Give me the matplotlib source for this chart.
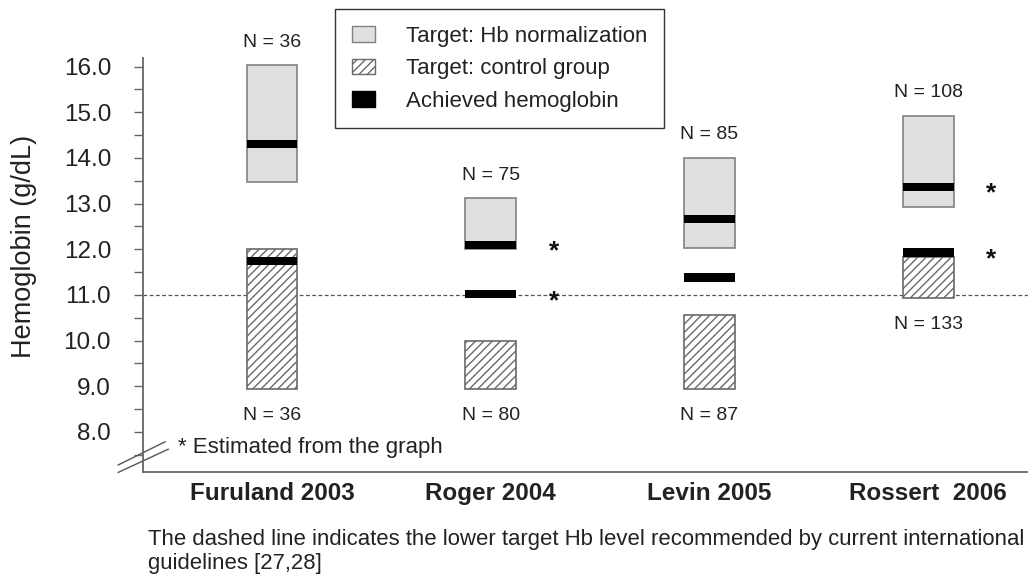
import numpy as np
import matplotlib.pyplot as plt
from matplotlib.patches import Patch
from matplotlib.lines import Line2D
from matplotlib.ticker import FormatStrFormatter

plt.rcParams['font.family'] = ['Liberation Sans', 'DejaVu Sans']
plt.rcParams['hatch.linewidth'] = 1.0

# trials and their values (g/dL)
studies = ["Furuland 2003", "Roger 2004", "Levin 2005", "Rossert  2006"]
norm_low = [13.48, 12.0, 12.02, 12.92]
norm_high = [16.03, 13.12, 14.01, 14.93]
ctrl_low = [8.93, 8.93, 8.93, 10.93]
ctrl_high = [12.0, 10.0, 10.56, 11.84]
achieved_norm = [14.3, 12.1, 12.66, 13.37]
achieved_ctrl = [11.74, 11.02, 11.38, 11.93]
n_norm = [36, 75, 85, 108]
n_ctrl = [36, 80, 87, 133]
estimated = [False, True, False, True]
guideline_hb = 11.0

gray_fill = "#e0e0e0"
edge = "#808080"
axis_col = "#666666"
txt = "#222222"

fig = plt.figure(figsize=(10.28, 5.84), dpi=100)
ax = fig.add_axes([143 / 1028, 1 - 472 / 584, 885 / 1028, 414 / 584])

x = np.arange(len(studies))
w = 0.233
band = 0.18

# dashed guideline level
ax.axhline(guideline_hb, color="#555555", lw=0.9, ls=(0, (3, 2)), zorder=1)

# target ranges
ax.bar(x, np.array(norm_high) - np.array(norm_low), bottom=norm_low, width=w,
       color=gray_fill, edgecolor=edge, linewidth=1.2, zorder=2)
ax.bar(x, np.array(ctrl_high) - np.array(ctrl_low), bottom=ctrl_low, width=w,
       color="white", edgecolor="#6a6a6a", hatch="////", linewidth=1.2, zorder=2)

# achieved hemoglobin bands
for vals in (achieved_norm, achieved_ctrl):
    ax.bar(x, band, bottom=np.array(vals) - band / 2, width=w,
           color="black", edgecolor="black", linewidth=0, zorder=3)

# N labels and "estimated" stars
for i in range(len(studies)):
    ax.annotate("N = %d" % n_norm[i], (x[i], norm_high[i]), xytext=(0, 16.5),
                textcoords="offset points", ha="center", va="center", fontsize=14,
                color=txt, annotation_clip=False)
    ax.annotate("N = %d" % n_ctrl[i], (x[i], ctrl_low[i]), xytext=(0, -19),
                textcoords="offset points", ha="center", va="center", fontsize=14,
                color=txt, annotation_clip=False)
    if estimated[i]:
        for v in (achieved_norm[i], achieved_ctrl[i]):
            ax.annotate("*", (x[i] + 0.29, v), xytext=(0, -5),
                        textcoords="offset points", ha="center", va="center",
                        fontsize=19, fontweight="bold", color="#111111")

ax.set_xlim(-0.59, 3.457)
ax.set_ylim(7.12, 16.19)
ax.set_yticks(np.arange(8.0, 16.01, 1.0))
ax.set_yticks(np.arange(7.5, 16.01, 0.5), minor=True)
ax.yaxis.set_major_formatter(FormatStrFormatter("%.1f"))
ax.tick_params(axis="y", which="both", length=6.5, width=1.0, color=axis_col,
               labelsize=17.5, labelcolor=txt, pad=16.5)
ax.set_xticks(x)
ax.set_xticklabels(studies, fontsize=17.5, fontweight="bold", color=txt)
ax.tick_params(axis="x", length=0, pad=7)

fig.text(24 / 1028, 1 - 246 / 584, "Hemoglobin (g/dL)", rotation=90,
         fontsize=19.5, color=txt, ha="center", va="center")

for s in ("top", "right"):
    ax.spines[s].set_visible(False)
for s in ("left", "bottom"):
    ax.spines[s].set_color(axis_col)
    ax.spines[s].set_linewidth(1.3)

# axis break marks
for (x0, y0, x1, y1) in [(-0.028, 0.017, 0.025, 0.073), (-0.028, -0.001, 0.0285, 0.055)]:
    ax.add_line(Line2D([x0, x1], [y0, y1], transform=ax.transAxes, color="#555555",
                       lw=1.0, clip_on=False))
ax.text(0.0395, 0.060, "* Estimated from the graph", transform=ax.transAxes,
        fontsize=16, va="center", ha="left", color=txt)

handles = [Patch(facecolor=gray_fill, edgecolor=edge),
           Patch(facecolor="white", edgecolor="#6a6a6a", hatch="////"),
           Patch(facecolor="black", edgecolor="black")]
labels = ["Target: Hb normalization", "Target: control group", "Achieved hemoglobin"]
leg = ax.legend(handles, labels, loc="upper left", bbox_to_anchor=(335 / 1028, 1 - 9 / 584),
                bbox_transform=fig.transFigure, fontsize=16, frameon=True, fancybox=False,
                framealpha=1, edgecolor="#333333", borderaxespad=0, borderpad=0.75,
                handlelength=1.05, handleheight=0.7, handletextpad=1.4, labelspacing=0.52)
leg.get_frame().set_linewidth(1.0)
for t in leg.get_texts():
    t.set_color(txt)

fig.text(148 / 1028, 1 - 540 / 584,
         "The dashed line indicates the lower target Hb level recommended by current international",
         fontsize=15.9, va="center", ha="left", color=txt)
fig.text(148 / 1028, 1 - 563 / 584, "guidelines [27,28]",
         fontsize=15.9, va="center", ha="left", color=txt)

fig.savefig("out.png", dpi=100)
